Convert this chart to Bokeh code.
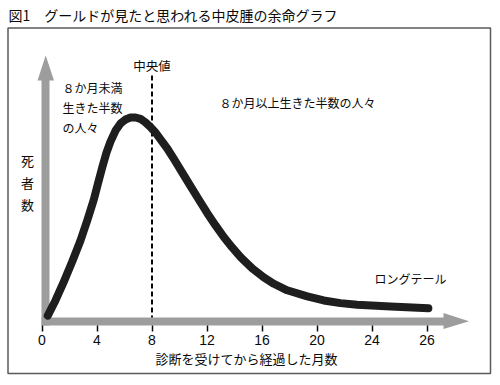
from bokeh.plotting import figure
from bokeh.models import LinearAxis, FixedTicker, ColumnDataSource, Range1d
from bokeh.core.properties import value
from bokeh.embed import file_html
from bokeh.resources import INLINE

# ---- data ----
months = [0.42, 0.98, 1.59, 2.20, 2.80, 3.29, 3.77, 4.07, 4.38, 4.69, 4.98, 5.35,
          5.71, 6.07, 6.44, 6.80, 7.16, 7.49, 7.85, 8.22, 8.58, 9.11, 9.59, 10.2,
          10.8, 11.4, 12.01, 12.62, 13.22, 13.83, 14.44, 15.29, 16.13, 16.86,
          17.83, 19.29, 20.49, 21.71, 22.92, 25.35, 28.1]
deaths = [2.9, 10.3, 19.6, 29.4, 39.7, 49.5, 59.8, 67.6, 75.5, 82.8, 88.2, 93.6,
          97.1, 99.0, 100.0, 100.0, 99.3, 97.8, 95.6, 92.9, 89.6, 84.8, 79.7, 73.0,
          66.4, 59.8, 53.2, 47.1, 41.4, 36.3, 31.6, 26.0, 21.6, 18.5,
          15.3, 12.3, 10.3, 9.0, 8.2, 7.3, 6.5]
tick_values = [0, 4, 8, 12, 16, 20, 24, 28]
tick_labels = ["0", "4", "8", "12", "16", "20", "24", "26"]
median_month = 8

title_text = "図1　グールドが見たと思われる中皮腫の余命グラフ"
x_label = "診断を受けてから経過した月数"
y_label = "死\n者\n数"
median_label = "中央値"
left_note = "８か月未満\n生きた半数\nの人々"
right_note = "８か月以上生きた半数の人々"
tail_note = "ロングテール"

FONT = "Noto Sans CJK JP"
INK = "#0a0a0a"
GRAY = "#9d9d9d"

# ---- geometry helpers (page pixel -> data) ----
W, H = 492, 378
X0, XS = 41.5, 13.75
Y0, YS = 321.0, 2.04

def fx(px):
    return (px - X0) / XS

def fy(py):
    return (Y0 - py) / YS

p = figure(width=W, height=H, x_range=Range1d(fx(0), fx(W)),
           y_range=Range1d(fy(H), fy(0)),
           x_axis_type=None, y_axis_type=None,
           toolbar_location=None, output_backend="svg",
           min_border=0, outline_line_color=None)
p.background_fill_color = "white"
p.border_fill_color = "white"

# frame box
p.quad(left=fx(7.5), right=fx(490), top=fy(27.5), bottom=fy(373),
       fill_color=None, line_color="#5a5a5a", line_width=1.5)

# gray axis arrows
p.quad(left=fx(41), right=fx(443.5), top=fy(317), bottom=fy(325),
       fill_color=GRAY, line_color=None)
p.patch([fx(443), fx(443), fx(468.5)], [fy(312.5), fy(328.5), fy(320.8)],
        fill_color=GRAY, line_color=None)
p.quad(left=fx(41), right=fx(49), top=fy(79.5), bottom=fy(325),
       fill_color=GRAY, line_color=None)
p.patch([fx(37), fx(53.5), fx(45.2)], [fy(80), fy(80), fy(55)],
        fill_color=GRAY, line_color=None)

# median dashed line
p.segment(x0=[median_month], x1=[median_month], y0=[fy(75)], y1=[fy(317)],
          line_color=INK, line_width=2, line_dash="5 3")

# survival curve
src = ColumnDataSource(dict(x=months, y=deaths))
p.line("x", "y", source=src, line_color="#1e1e1e", line_width=8,
       line_cap="round", line_join="round")

# x axis
overrides = {float(v): l for v, l in zip(tick_values, tick_labels)}
xaxis = LinearAxis(fixed_location=fy(325), ticker=FixedTicker(ticks=tick_values),
                   major_label_overrides=overrides,
                   axis_label=x_label)
xaxis.axis_line_color = None
xaxis.major_tick_line_color = INK
xaxis.major_tick_line_width = 1.5
xaxis.major_tick_in = 0
xaxis.major_tick_out = 6
xaxis.minor_tick_line_color = None
xaxis.major_label_text_font = "Liberation Sans"
xaxis.major_label_text_font_size = "14px"
xaxis.major_label_text_color = INK
xaxis.major_label_standoff = 3
xaxis.axis_label_text_font = FONT
xaxis.axis_label_text_font_size = "13px"
xaxis.axis_label_text_font_style = "normal"
xaxis.axis_label_text_color = INK
xaxis.axis_label_standoff = 1
p.add_layout(xaxis, "below")

# texts
def txt(x, y, t, size, align="left", lh=1.2):
    p.text(x=[x], y=[y], text=[t], text_font=value(FONT), text_font_size=size,
           text_color=INK, text_align=align, text_baseline="middle",
           text_line_height=lh)

txt(fx(8), fy(14), title_text, "14px")
txt(fx(151.5), fy(65), median_label, "12.5px", align="center")
txt(fx(62), fy(107), left_note, "12px", lh=1.17)
txt(fx(219), fy(102), right_note, "12px")
txt(fx(374), fy(278), tail_note, "12px")
txt(fx(27), fy(182), y_label, "13px", align="center", lh=1.15)

open("out.html", "w").write(file_html(p, INLINE))
